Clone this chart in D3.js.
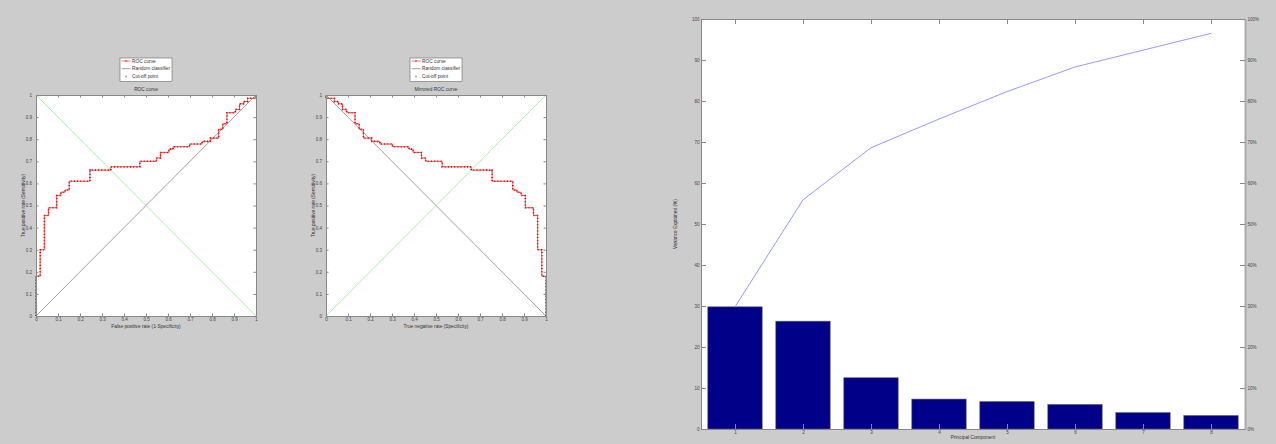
<!DOCTYPE html>
<html>
<head>
<meta charset="utf-8">
<script src="https://cdn.jsdelivr.net/npm/d3@7"></script>
<style>
  body { margin: 0; background: #cccccc; }
  svg { display: block; font-family: "Liberation Sans", Arial, sans-serif; }
  .tick text { fill: #444; font-size: 4.5px; }
  .lbl { fill: #333; font-size: 4.8px; }
</style>
</head>
<body>
<svg id="fig"></svg>
<script>
// ROC staircase corners: at each FPR the curve rises to the TPR value
const rocFpr = [0, 0, 0.019, 0.038, 0.057, 0.094, 0.113, 0.132, 0.151, 0.245, 0.340, 0.472, 0.547, 0.566,
                0.604, 0.623, 0.698, 0.755, 0.792, 0.830, 0.849, 0.868, 0.906, 0.925, 0.943, 0.962, 1.0];
const rocTpr = [0, 0.18, 0.30, 0.455, 0.49, 0.545, 0.56, 0.57, 0.61, 0.66, 0.675, 0.70, 0.715, 0.74,
                0.755, 0.766, 0.778, 0.79, 0.805, 0.845, 0.87, 0.92, 0.935, 0.96, 0.97, 0.985, 1.0];
const cutFpr = 0.245, cutTpr = 0.66;
const rocTicks = [0, 0.1, 0.2, 0.3, 0.4, 0.5, 0.6, 0.7, 0.8, 0.9, 1];
const legendItems = ["ROC curve", "Random classifier", "Cut-off point"];

// PCA pareto
const components = [1, 2, 3, 4, 5, 6, 7, 8];
const variance = [29.8, 26.3, 12.5, 7.3, 6.7, 6.0, 4.0, 3.3];
const cumulative = [29.8, 55.9, 68.6, 75.6, 82.3, 88.3, 92.4, 96.5];
const leftTicks = [0, 10, 20, 30, 40, 50, 60, 70, 80, 90, 100];
const rightTicks = [0, 10, 20, 30, 40, 50, 60, 70, 80, 90, 100];

const W = 1276, H = 444;
const svg = d3.select('#fig').attr('width', W).attr('height', H);
svg.append('rect').attr('width', W).attr('height', H).attr('fill', '#cccccc');

const axisColor = '#888';

// MATLAB style box: ticks pointing inward on all four sides
function boxAxes(g, x, y, tick, xTicks, yTicks, xPad, yPad) {
  const xb = g.append('g').attr('transform', `translate(0,${y.range()[0]})`)
    .call(d3.axisBottom(x).tickValues(xTicks).tickFormat(d3.format('')).tickSize(-tick).tickPadding(xPad).tickSizeOuter(0));
  const xt = g.append('g').attr('transform', `translate(0,${y.range()[1]})`)
    .call(d3.axisTop(x).tickValues(xTicks).tickFormat('').tickSize(-tick).tickSizeOuter(0));
  const yl = g.append('g').attr('transform', `translate(${x.range()[0]},0)`)
    .call(d3.axisLeft(y).tickValues(yTicks).tickFormat(d3.format('')).tickSize(-tick).tickPadding(yPad).tickSizeOuter(0));
  const yr = g.append('g').attr('transform', `translate(${x.range()[1]},0)`)
    .call(d3.axisRight(y).tickValues(yTicks).tickFormat('').tickSize(-tick).tickSizeOuter(0));
  [xb, xt, yl, yr].forEach(a => {
    a.selectAll('path, line').attr('stroke', axisColor);
  });
  return {xb, xt, yl, yr};
}

function drawRoc(cfg) {
  const g = svg.append('g');
  const x = d3.scaleLinear().domain([0, 1]).range([cfg.left, cfg.left + 220]);
  const y = d3.scaleLinear().domain([0, 1]).range([316, 95]);

  g.append('rect').attr('x', x(0)).attr('y', y(1))
    .attr('width', x(1) - x(0)).attr('height', y(0) - y(1)).attr('fill', '#fff');

  const fx = cfg.mirror ? (v => 1 - v) : (v => v);

  // reference lines
  g.append('line').attr('x1', x(fx(0))).attr('y1', y(0)).attr('x2', x(fx(1))).attr('y2', y(1))
    .attr('stroke', '#777').attr('stroke-width', 0.7);
  g.append('line').attr('x1', x(fx(0))).attr('y1', y(1)).attr('x2', x(fx(1))).attr('y2', y(0))
    .attr('stroke', '#8ef08e').attr('stroke-width', 0.8);

  const pts = rocFpr.map((f, i) => [f, rocTpr[i]]);
  const line = d3.line().x(d => x(fx(d[0]))).y(d => y(d[1])).curve(d3.curveStepAfter);
  g.append('path').datum(pts).attr('d', line)
    .attr('fill', 'none').attr('stroke', '#ff3030').attr('stroke-width', 0.8);
  // dotted markers look along the staircase
  g.append('path').datum(pts).attr('d', line)
    .attr('fill', 'none').attr('stroke', '#e00000').attr('stroke-width', 1.6)
    .attr('stroke-dasharray', '1 2.2');

  g.append('circle').attr('cx', x(fx(cutFpr))).attr('cy', y(cutTpr)).attr('r', 1.1)
    .attr('fill', '#8a5ad0');

  boxAxes(g, x, y, 2.5, rocTicks, rocTicks, 1.5, 4);

  g.append('text').attr('class', 'lbl').attr('x', x(0.5)).attr('y', 91)
    .attr('text-anchor', 'middle').text(cfg.title);
  g.append('text').attr('class', 'lbl').attr('x', x(0.5)).attr('y', 327.5)
    .attr('text-anchor', 'middle').text(cfg.xLabel);
  g.append('text').attr('class', 'lbl')
    .attr('transform', `translate(${cfg.left - 11},${y(0.5)}) rotate(-90)`)
    .attr('text-anchor', 'middle').text('True positive rate (Sensitivity)');

  // legend
  const lx = x(0.5) - 26, ly = 58;
  const lg = g.append('g').attr('transform', `translate(${lx},${ly})`);
  lg.append('rect').attr('width', 52).attr('height', 23.5)
    .attr('fill', '#fff').attr('stroke', '#666').attr('stroke-width', 0.6);
  legendItems.forEach((t, i) => {
    const yy = 3 + i * 7.7;
    if (i === 0) {
      lg.append('line').attr('x1', 1.5).attr('x2', 10.5).attr('y1', yy).attr('y2', yy)
        .attr('stroke', '#ff3030').attr('stroke-width', 0.7);
      lg.append('circle').attr('cx', 6).attr('cy', yy).attr('r', 0.7).attr('fill', '#e00000');
    } else if (i === 1) {
      lg.append('line').attr('x1', 1.5).attr('x2', 10.5).attr('y1', yy).attr('y2', yy)
        .attr('stroke', '#777').attr('stroke-width', 0.7);
    } else {
      lg.append('circle').attr('cx', 6).attr('cy', yy).attr('r', 1)
        .attr('fill', '#9a9aff');
    }
    lg.append('text').attr('class', 'lbl').attr('x', 12).attr('y', yy + 1.7).text(t);
  });
}

drawRoc({left: 36, mirror: false, title: 'ROC curve', xLabel: 'False positive rate (1-Specificity)'});
drawRoc({left: 326, mirror: true, title: 'Mirrored ROC curve', xLabel: 'True negative rate (Specificity)'});

// Pareto chart
(function drawPareto() {
  const g = svg.append('g');
  const x = d3.scaleLinear().domain([0.5, 8.5]).range([701, 1245]);
  const y = d3.scaleLinear().domain([0, 100]).range([429, 19]);

  g.append('rect').attr('x', x(0.5)).attr('y', y(100))
    .attr('width', x(8.5) - x(0.5)).attr('height', y(0) - y(100)).attr('fill', '#fff');

  g.selectAll('.bar').data(components).join('rect')
    .attr('class', 'bar')
    .attr('x', d => x(d - 0.4))
    .attr('width', d => x(d + 0.4) - x(d - 0.4))
    .attr('y', (d, i) => y(variance[i]))
    .attr('height', (d, i) => y(0) - y(variance[i]))
    .attr('fill', '#000088').attr('stroke', '#666').attr('stroke-width', 0.6);

  g.append('path').datum(components)
    .attr('d', d3.line().x(d => x(d)).y((d, i) => y(cumulative[i])))
    .attr('fill', 'none').attr('stroke', '#8c8cff').attr('stroke-width', 0.9);

  const ax = boxAxes(g, x, y, 5, components, leftTicks, 2, 1.5);
  ax.yr.call(d3.axisRight(y).tickValues(rightTicks).tickFormat(d => d + '%')
    .tickSize(-5).tickPadding(2).tickSizeOuter(0));
  ax.yr.selectAll('line').attr('stroke', axisColor);
  ax.yr.select('path').attr('stroke', '#aaa').attr('stroke-width', 2);
  ax.yr.selectAll('text').attr('x', 2.5);

  g.append('text').attr('class', 'lbl').attr('x', (x(0.5) + x(8.5)) / 2).attr('y', 439)
    .attr('text-anchor', 'middle').text('Principal Component');
  g.append('text').attr('class', 'lbl')
    .attr('transform', `translate(677,${y(50)}) rotate(-90)`)
    .attr('text-anchor', 'middle').text('Variance Explained (%)');
})();
</script>
</body>
</html>
